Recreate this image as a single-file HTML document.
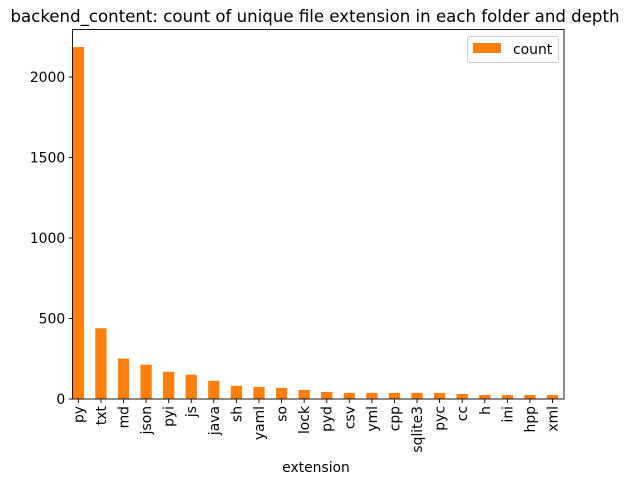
<!DOCTYPE html>
<html><head><meta charset="utf-8"><style>
body{margin:0;background:#fff;}
text{font-family:"DejaVu Sans","Liberation Sans",sans-serif;fill:#000;}
</style></head><body>
<svg id="chart" width="631" height="485" xmlns="http://www.w3.org/2000/svg">
<text x="315" y="22" font-size="16.6" text-anchor="middle">backend_content: count of unique file extension in each folder and depth</text>
<g id="bars"></g>
<g id="axes"></g>
<rect x="72.5" y="29.5" width="491.5" height="369.5" fill="none" stroke="#000" stroke-width="0.9"/>
<g>
<rect x="467.5" y="36.5" width="91" height="26" rx="2" fill="#fff" stroke="#ccc"/>
<rect x="473" y="43" width="28" height="10" fill="#ff7f0e"/>
<text x="513" y="54" font-size="13.9">count</text>
</g>
<text x="316" y="472" font-size="13.9" text-anchor="middle">extension</text>
</svg>
<script>
const categories=["py","txt","md","json","pyi","js","java","sh","yaml","so","lock","pyd","csv","yml","cpp","sqlite3","pyc","cc","h","ini","hpp","xml"];
const counts=[2186,439,251,213,169,151,113,82,75,69,56,44,38,38,38,38,38,31,25,25,25,25];
const yTicks=[0,500,1000,1500,2000];
const NS="http://www.w3.org/2000/svg";
const x0=72.7,step=22.58,baseY=399,pxPer=80.5/500;
const xs=i=>x0+(i+0.25)*step;
const ys=v=>baseY-v*pxPer;
const bars=document.getElementById('bars'),axes=document.getElementById('axes');
function mk(t,a){const e=document.createElementNS(NS,t);for(const k in a)e.setAttribute(k,a[k]);return e;}
categories.forEach((c,i)=>{
  const r=mk('rect',{x:xs(i)-step*0.25,y:ys(counts[i]),width:step*0.5,height:baseY-ys(counts[i]),fill:'#ff7f0e'});
  
  
  bars.appendChild(r);
  const tk=mk('line',{x1:xs(i),x2:xs(i),y1:baseY,y2:baseY+4,stroke:'#000','stroke-width':0.9});
  
  
  axes.appendChild(tk);
  const t=mk('text',{x:0,y:0,'font-size':13.9,'text-anchor':'end',transform:`translate(${xs(i)+5},${baseY+7}) rotate(-90)`});
  t.textContent=c;
  
  
  axes.appendChild(t);
});
yTicks.forEach(v=>{
  const tk=mk('line',{x1:x0-4,x2:x0,y1:ys(v),y2:ys(v),stroke:'#000','stroke-width':0.9});
  
  
  axes.appendChild(tk);
  const t=mk('text',{x:x0-7.5,y:ys(v)+5,'font-size':13.9,'text-anchor':'end'});
  t.textContent=v;
  
  
  axes.appendChild(t);
});
</script>
</body></html>
